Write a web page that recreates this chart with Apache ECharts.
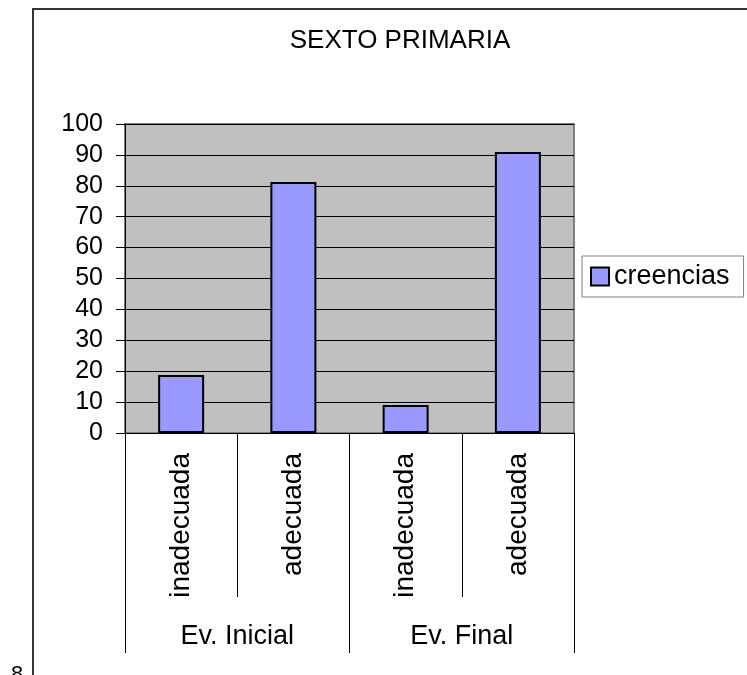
<!DOCTYPE html>
<html>
<head>
<meta charset="utf-8">
<script src="https://cdn.jsdelivr.net/npm/echarts@6/dist/echarts.min.js"></script>
<style>
  html, body { margin: 0; padding: 0; background: #fff; }
  #chart { width: 747px; height: 675px; }
</style>
</head>
<body>
<div id="chart"></div>
<script>
// data
const categories = ['inadecuada', 'adecuada', 'inadecuada', 'adecuada'];
const groups = ['Ev. Inicial', 'Ev. Final'];
const creencias = [18.8, 81.2, 9.1, 90.9];
const seriesName = 'creencias';
const chartTitle = 'SEXTO PRIMARIA';

const font = 'Liberation Sans, Arial, sans-serif';
const black = '#000000';

const myChart = echarts.init(document.getElementById('chart'));

const option = {
  animation: false,
  backgroundColor: '#ffffff',
  title: {
    text: chartTitle,
    left: 395,
    top: 23,
    textAlign: 'center',
    textStyle: { color: black, fontWeight: 'normal', fontSize: 26, fontFamily: font },
  },
  legend: {
    data: [seriesName],
    left: 582,
    top: 256,
    orient: 'vertical',
    backgroundColor: '#ffffff',
    borderColor: '#808080',
    borderWidth: 1,
    padding: [7, 14, 7, 8],
    itemWidth: 18,
    itemHeight: 18,
    icon: 'rect',
    itemStyle: { borderColor: black, borderWidth: 2 },
    textStyle: { color: black, fontSize: 27, fontFamily: font },
  },
  grid: {
    left: 125,
    right: 173,
    top: 124,
    bottom: 242,
    show: true,
    backgroundColor: '#c0c0c0',
    borderColor: '#808080',
    borderWidth: 2,
  },
  xAxis: [
    {
      type: 'category',
      data: categories,
      axisLine: { show: true, lineStyle: { color: black, width: 1 } },
      axisTick: { show: true, interval: 0, length: 164, lineStyle: { color: black } },
      axisLabel: {
        interval: 0,
        rotate: 90,
        margin: 20,
        color: black,
        fontSize: 28,
        fontFamily: font,
      },
    },
    {
      type: 'category',
      data: groups,
      position: 'bottom',
      axisLine: { show: false },
      axisTick: { show: true, interval: 0, length: 220, lineStyle: { color: black } },
      axisLabel: {
        interval: 0,
        margin: 190,
        color: black,
        fontSize: 27,
        fontFamily: font,
      },
    },
  ],
  yAxis: {
    type: 'value',
    min: 0,
    max: 100,
    interval: 10,
    axisLine: { show: true, lineStyle: { color: black } },
    axisTick: { show: true, length: 9, lineStyle: { color: black } },
    axisLabel: { color: black, fontSize: 25, fontFamily: font, margin: 22 },
    splitLine: { show: true, lineStyle: { color: black, width: 1 } },
  },
  series: [
    {
      name: seriesName,
      type: 'bar',
      data: creencias,
      barWidth: 46,
      itemStyle: { color: '#9999ff', borderColor: black, borderWidth: 2 },
    },
  ],
  graphic: [
    {
      type: 'rect',
      shape: { x: 33, y: 9, width: 800, height: 700 },
      style: { fill: 'none', stroke: '#333333', lineWidth: 2 },
      silent: true,
    },
    {
      type: 'text',
      left: 11,
      top: 664,
      style: { text: '8', fill: black, font: '22px ' + font },
    },
  ],
};

myChart.setOption(option);
</script>
</body>
</html>
